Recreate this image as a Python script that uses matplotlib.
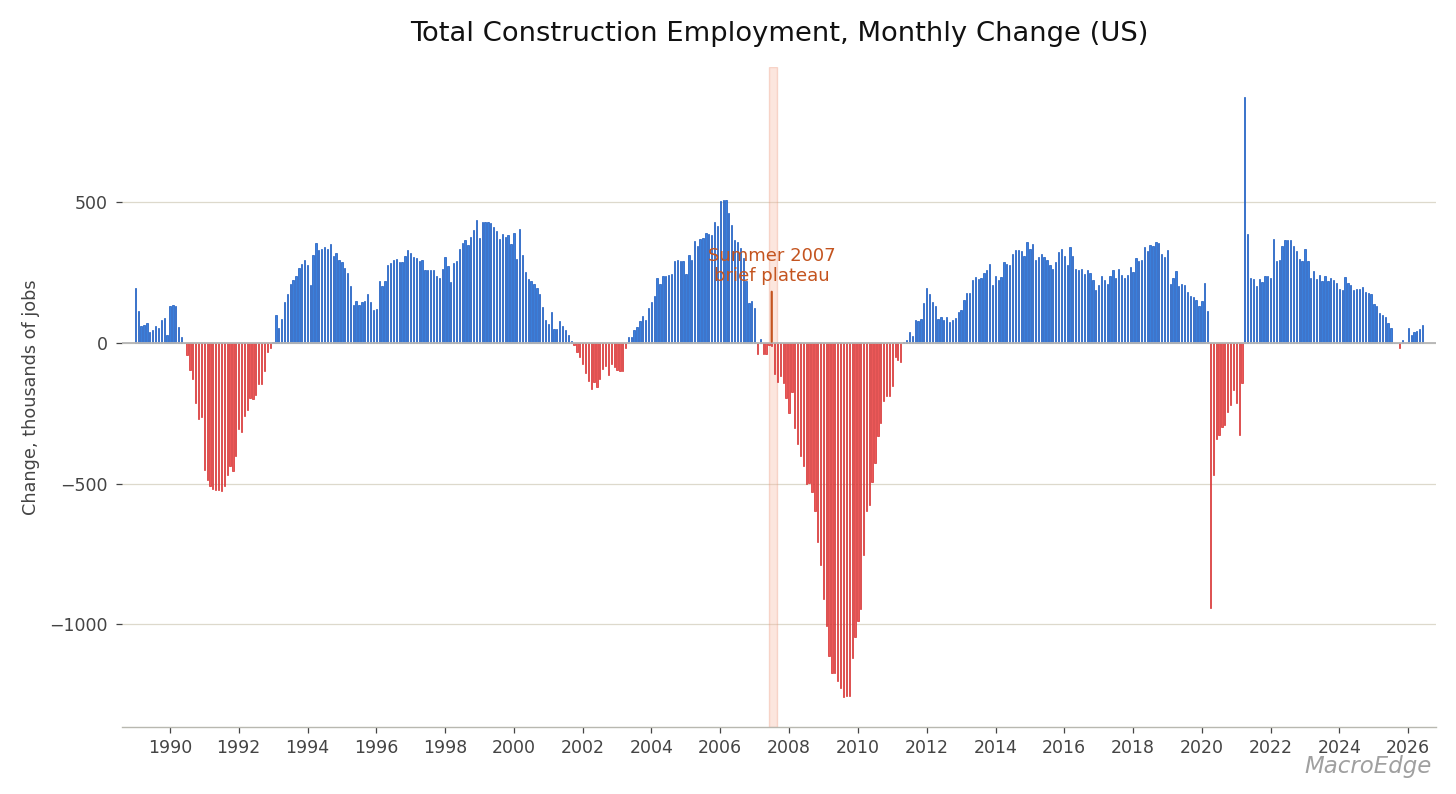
import matplotlib
matplotlib.use("Agg")
import matplotlib.pyplot as plt
import matplotlib.dates as mdates
import numpy as np
import pandas as pd

# Monthly change, thousands of jobs, Jan 1989 .. Jun 2026
y1989 = [194, 115, 60, 65, 71, 38, 45, 62, 52, 83, 90, 30]
y1990 = [133, 137, 133, 58, 21, 0, -44, -95, -127, -212, -270, -264]
y1991 = [-450, -488, -509, -520, -522, -524, -525, -507, -470, -437, -455, -402]
y1992 = [-306, -318, -259, -240, -196, -199, -184, -145, -144, -99, -33, -18]
y1993 = [3, 101, 55, 86, 145, 175, 211, 224, 238, 267, 280, 294]
y1994 = [276, 206, 314, 357, 331, 336, 342, 333, 351, 308, 321, 296]
y1995 = [289, 268, 250, 202, 134, 151, 137, 146, 148, 174, 146, 119]
y1996 = [120, 221, 203, 221, 276, 286, 295, 300, 288, 289, 309, 331]
y1997 = [319, 307, 303, 290, 295, 258, 260, 260, 260, 239, 230, 262]
y1998 = [307, 275, 218, 283, 292, 336, 355, 368, 350, 377, 401, 438]
y1999 = [372, 432, 432, 431, 428, 414, 397, 370, 387, 377, 384, 353]
y2000 = [393, 299, 407, 314, 252, 228, 220, 209, 195, 173, 129, 82]
y2001 = [69, 111, 49, 49, 77, 62, 48, 30, 6, -8, -32, -48]
y2002 = [-75, -107, -134, -164, -138, -157, -127, -94, -81, -114, -74, -84]
y2003 = [-95, -99, -101, -19, 23, 23, 45, 58, 80, 95, 82, 125]
y2004 = [145, 169, 231, 209, 239, 239, 241, 244, 290, 294, 290, 292]
y2005 = [244, 313, 294, 363, 345, 369, 375, 390, 386, 383, 432, 415]
y2006 = [506, 508, 507, 462, 419, 367, 361, 339, 301, 220, 143, 151]
y2007 = [123, -39, 15, -39, -39, -6, -10, -111, -140, -117, -143, -196]
y2008 = [-248, -173, -301, -360, -401, -437, -500, -497, -531, -597, -708, -788]
y2009 = [-910, -1006, -1113, -1175, -1175, -1202, -1226, -1259, -1255, -1255, -1119, -1047]
y2010 = [-988, -946, -754, -597, -577, -496, -425, -331, -286, -208, -190, -190]
y2011 = [-152, -48, -60, -68, 2, 12, 38, 26, 83, 77, 86, 143]
y2012 = [196, 176, 146, 133, 87, 93, 83, 94, 75, 83, 89, 111]
y2013 = [118, 152, 177, 177, 224, 234, 226, 230, 248, 258, 280, 208]
y2014 = [238, 223, 236, 288, 280, 276, 318, 330, 330, 327, 309, 361]
y2015 = [334, 353, 295, 307, 315, 307, 294, 277, 264, 287, 325, 336]
y2016 = [309, 278, 343, 308, 262, 259, 262, 244, 258, 249, 224, 187]
y2017 = [207, 240, 224, 211, 240, 261, 230, 264, 243, 231, 243, 271]
y2018 = [252, 302, 293, 294, 343, 328, 349, 345, 361, 356, 318, 305]
y2019 = [331, 211, 230, 255, 202, 211, 207, 181, 169, 162, 152, 131]
y2020 = [148, 214, 115, -944, -471, -340, -327, -300, -292, -246, -219, -168]
y2021 = [-213, -328, -142, 875, 386, 233, 228, 204, 228, 216, 239, 237]
y2022 = [231, 370, 292, 297, 346, 368, 365, 367, 346, 328, 298, 290]
y2023 = [334, 290, 233, 257, 226, 243, 222, 239, 219, 231, 225, 214]
y2024 = [192, 189, 236, 214, 208, 190, 191, 192, 201, 183, 177, 175]
y2025 = [138, 132, 108, 99, 91, 72, 53, 0, 0, -19, 12, 0]
y2026 = [52, 30, 39, 43, 50, 64]

start_month = "1989-01-01"
title = "Total Construction Employment, Monthly Change (US)"
ylabel = "Change, thousands of jobs"
annot_text = "Summer 2007\nbrief plateau"
annot_date = "2007-07-01"
annot_text_y = 274
span_start, span_end = "2007-06-01", "2007-08-31"
year_ticks = list(range(1990, 2027, 2))
y_ticks = [-1000, -500, 0, 500]

values = np.array(
    y1989 + y1990 + y1991 + y1992 + y1993 + y1994 + y1995 + y1996 + y1997 + y1998
    + y1999 + y2000 + y2001 + y2002 + y2003 + y2004 + y2005 + y2006 + y2007 + y2008
    + y2009 + y2010 + y2011 + y2012 + y2013 + y2014 + y2015 + y2016 + y2017 + y2018
    + y2019 + y2020 + y2021 + y2022 + y2023 + y2024 + y2025 + y2026, dtype=float)
dates = pd.date_range(start_month, periods=len(values), freq="MS")

BLUE_F, BLUE_E = "#3a7fdc", "#1656bd"
RED_F, RED_E = "#ec5858", "#d42e2e"
ORANGE = "#c4541f"
TXT = "#444444"

fig = plt.figure(figsize=(14.56, 7.94), dpi=100)
ax = fig.add_axes([0.0838, 0.0844, 0.9025, 0.8312])

pos = values >= 0
x = mdates.date2num(dates)
ax.bar(x[pos], values[pos], width=14, color=BLUE_F, edgecolor=BLUE_E,
       linewidth=0.5, zorder=3)
ax.bar(x[~pos], values[~pos], width=14, color=RED_F, edgecolor=RED_E,
       linewidth=0.5, zorder=3)

ax.axvspan(mdates.datestr2num(span_start), mdates.datestr2num(span_end),
           facecolor="#f7b9a3", alpha=0.35, edgecolor="#ee9a7f", linewidth=1.0,
           zorder=1)
ax.axhline(0, color="#b5b5b5", linewidth=1.3, zorder=4)

ax.annotate(annot_text, xy=(mdates.datestr2num(annot_date), 0),
            xytext=(mdates.datestr2num(annot_date), annot_text_y),
            ha="center", va="center", fontsize=13, color=ORANGE,
            linespacing=1.12,
            arrowprops=dict(arrowstyle="-", color=ORANGE, lw=1.6,
                            shrinkA=3, shrinkB=1),
            zorder=6)

ax.margins(x=0.01)
ax.set_yticks(y_ticks)
ax.set_yticklabels([f"{v}".replace("-", "\u2212") for v in y_ticks])
ax.set_xticks([mdates.datestr2num(f"{yr}-01-01") for yr in year_ticks])
ax.set_xticklabels([str(yr) for yr in year_ticks])

ax.grid(axis="y", color="#ddd9cc", linewidth=0.9, zorder=0)
ax.set_axisbelow(True)
for s in ["top", "right", "left"]:
    ax.spines[s].set_visible(False)
ax.spines["bottom"].set_color("#b8b8b0")
ax.spines["bottom"].set_linewidth(1.0)

ax.tick_params(axis="both", labelsize=12.5, colors=TXT, length=4, width=0.9)
ax.tick_params(axis="x", pad=5)
ax.tick_params(axis="y", pad=6)
for t in ax.get_xticklabels() + ax.get_yticklabels():
    t.set_color(TXT)

ax.set_ylabel(ylabel, fontsize=12.7, color=TXT, labelpad=7)
ax.set_title(title, fontsize=19.7, color="#111111", pad=19)

fig.text(0.9835, 0.035, "MacroEdge", ha="right", va="center", fontsize=16.5,
         style="italic", color="#a0a0a0")

fig.savefig("out.png", dpi=100)
